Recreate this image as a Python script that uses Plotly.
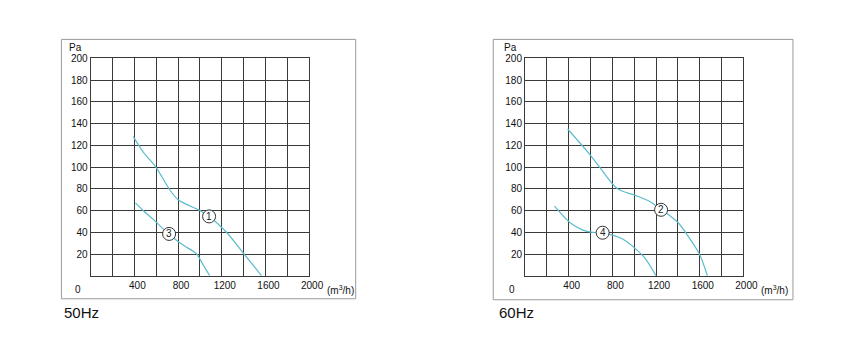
import plotly.graph_objects as go

W, H = 862, 341

# Fan curves, airflow (m3/h) vs static pressure (Pa)
curve1_x = [390, 480, 597, 718, 800, 1000, 1080, 1243, 1405, 1565]
curve1_y = [128, 114, 100, 80, 70, 60, 55, 40, 20, 0]
curve3_x = [410, 480, 583, 718, 850, 970, 1030, 1090]
curve3_y = [67, 60, 51, 38, 28, 20, 10, 0]
curve2_x = [390, 590, 683, 846, 1010, 1130, 1246, 1400, 1490, 1597, 1670]
curve2_y = [135, 112, 100, 80, 74, 69, 61, 49, 37, 20, 0]
curve4_x = [270, 410, 530, 620, 711, 890, 1010, 1100, 1200]
curve4_y = [64, 49, 42, 40, 39.5, 34, 25, 16, 0]

# Curve number badges
badge_50_x = [1084, 718]
badge_50_y = [54.6, 38.5]
badge_50_t = ["1", "3"]
badge_60_x = [1246, 711]
badge_60_y = [60.7, 39.6]
badge_60_t = ["2", "4"]

x_ticks = [400, 800, 1200, 1600, 2000]
x_minor = [200, 600, 1000, 1400, 1800]
y_ticks = [20, 40, 60, 80, 100, 120, 140, 160, 180, 200]
panel_titles = ["50Hz", "60Hz"]

LINE = "#5cbccd"
GRID = "#3a3a3a"
FONT = "Arial, Liberation Sans, sans-serif"

fig = go.Figure()


def add_curve(x, y, xa, ya):
    fig.add_trace(go.Scatter(x=x, y=y, mode="lines", xaxis=xa, yaxis=ya,
                             line=dict(color=LINE, width=1.2, shape="spline", smoothing=0.8),
                             hoverinfo="skip", showlegend=False))


def add_badges(x, y, t, xa, ya):
    fig.add_trace(go.Scatter(x=x, y=y, mode="markers", xaxis=xa, yaxis=ya,
                             marker=dict(size=13, color="white", line=dict(color="#333", width=1)),
                             hoverinfo="skip", showlegend=False))
    for xi, yi, ti in zip(x, y, t):
        fig.add_annotation(x=xi, y=yi, xref=xa, yref=ya, text=ti, showarrow=False,
                           font=dict(family=FONT, size=10, color="#222"))


add_curve(curve1_x, curve1_y, "x", "y")
add_curve(curve3_x, curve3_y, "x", "y")
add_badges(badge_50_x, badge_50_y, badge_50_t, "x", "y")
add_curve(curve2_x, curve2_y, "x2", "y2")
add_curve(curve4_x, curve4_y, "x2", "y2")
add_badges(badge_60_x, badge_60_y, badge_60_t, "x2", "y2")

y_dom = [(H - 274.6) / H, (H - 53.3) / H]
x_doms = [[92.3 / W, 314.6 / W], [534.3 / W, 756.6 / W]]

xa_common = dict(range=[0, 2000], tickmode="array", tickvals=x_ticks,
                 minor=dict(tickmode="array", tickvals=x_minor, showgrid=True,
                            gridcolor=GRID, gridwidth=1, ticks=""),
                 showgrid=True, gridcolor=GRID, gridwidth=1, zeroline=False,
                 showline=True, linecolor=GRID, linewidth=1, mirror=True,
                 ticks="", ticklabelshift=3,
                 tickfont=dict(family=FONT, size=10, color="#111"),
                 fixedrange=True)
ya_common = dict(range=[0, 200], tickmode="array", tickvals=y_ticks,
                 showgrid=True, gridcolor=GRID, gridwidth=1, zeroline=False,
                 showline=True, linecolor=GRID, linewidth=1, mirror=True,
                 ticks="", tickfont=dict(family=FONT, size=10, color="#111"),
                 fixedrange=True)

fig.update_layout(
    width=W, height=H, margin=dict(l=0, r=0, t=0, b=0),
    paper_bgcolor="white", plot_bgcolor="white",
    xaxis=dict(domain=x_doms[0], anchor="y", **xa_common),
    yaxis=dict(domain=y_dom, anchor="x", **ya_common),
    xaxis2=dict(domain=x_doms[1], anchor="y2", **xa_common),
    yaxis2=dict(domain=y_dom, anchor="x2", **ya_common),
)

# Outer frames around each panel
frames = [(62.5, 362, 34, 298), (502, 807, 34, 299)]
for x0, x1, t0, t1 in frames:
    fig.add_shape(type="rect", xref="paper", yref="paper",
                  x0=x0 / W, x1=x1 / W, y0=(H - t1) / H, y1=(H - t0) / H,
                  line=dict(color="#9a9a9a", width=1), fillcolor="rgba(0,0,0,0)", layer="below")

for i, (xa, ya) in enumerate([("x", "y"), ("x2", "y2")]):
    # origin label
    fig.add_annotation(x=0, y=0, xref=xa, yref=ya, text="0", showarrow=False,
                       xshift=-13, yshift=-14, font=dict(family=FONT, size=10, color="#111"))
    # axis units
    fig.add_annotation(x=2000, y=0, xref=xa, yref=ya, text="(m<sup>3</sup>/h)", showarrow=False,
                       xshift=31, yshift=-14, font=dict(family=FONT, size=10, color="#111"))
    fig.add_annotation(x=0, y=200, xref=xa, yref=ya, text="Pa", showarrow=False,
                       xshift=-15, yshift=11, font=dict(family=FONT, size=10, color="#111"))
    # frequency title
    fig.add_annotation(x=x_doms[i][0], y=(H - 312) / H, xref="paper", yref="paper",
                       text=panel_titles[i], showarrow=False, xanchor="left", yanchor="middle",
                       xshift=-29 if i == 0 else -28,
                       font=dict(family=FONT, size=15, color="#111"))

fig.write_html("out.html")
